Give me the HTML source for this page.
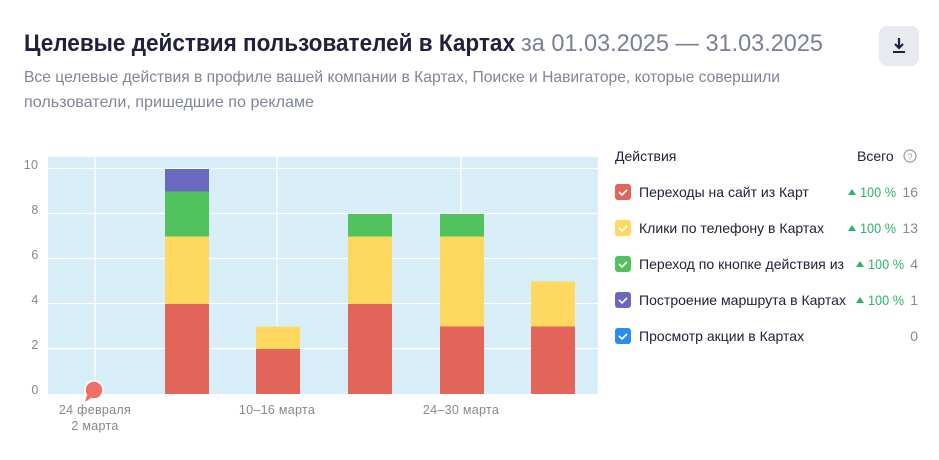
<!DOCTYPE html>
<html><head><meta charset="utf-8"><style>
html,body{margin:0;padding:0;background:#fff;width:939px;height:460px;overflow:hidden}
svg text{font-family:"Liberation Sans",sans-serif}
</style></head><body>
<svg width="939" height="460" viewBox="0 0 939 460" xmlns="http://www.w3.org/2000/svg">
<text x="24" y="51" font-size="24" font-weight="bold" fill="#21213b" textLength="491" lengthAdjust="spacingAndGlyphs">Целевые действия пользователей в Картах</text>
<text x="521" y="51" font-size="24" fill="#7a7f94" textLength="302" lengthAdjust="spacingAndGlyphs">за 01.03.2025 — 31.03.2025</text>
<rect x="879" y="26" width="40" height="40" rx="8" fill="#e8eaf0"/>
<path d="M899 38 v10 M895 44 l4 4 l4 -4" stroke="#21213b" stroke-width="2.2" fill="none"/>
<rect x="893" y="51" width="12" height="2" fill="#21213b"/>
<text x="24" y="82" font-size="16" fill="#808596" textLength="756" lengthAdjust="spacingAndGlyphs">Все целевые действия в профиле вашей компании в Картах, Поиске и Навигаторе, которые совершили</text>
<text x="24" y="107" font-size="16" fill="#808596" textLength="290" lengthAdjust="spacingAndGlyphs">пользователи, пришедшие по рекламе</text>
<rect x="48" y="157" width="550" height="237" fill="#d7eef9"/>
<g stroke="#fff" stroke-width="1.3">
<line x1="48" x2="598" y1="168.5" y2="168.5"/><line x1="48" x2="598" y1="213.5" y2="213.5"/>
<line x1="48" x2="598" y1="258.5" y2="258.5"/><line x1="48" x2="598" y1="303.5" y2="303.5"/>
<line x1="48" x2="598" y1="348.5" y2="348.5"/>
<line x1="95" x2="95" y1="157" y2="394"/><line x1="277" x2="277" y1="157" y2="394"/><line x1="461" x2="461" y1="157" y2="394"/>
</g>
<g font-size="12.5" fill="#888" letter-spacing="0.3">
<text x="31" y="169" text-anchor="middle">10</text><text x="35" y="214" text-anchor="middle">8</text>
<text x="35" y="259" text-anchor="middle">6</text><text x="35" y="304" text-anchor="middle">4</text>
<text x="35" y="349" text-anchor="middle">2</text><text x="35" y="394" text-anchor="middle">0</text>
<text x="95" y="414" text-anchor="middle">24 февраля</text><text x="95" y="430" text-anchor="middle">2 марта</text>
<text x="277" y="414" text-anchor="middle">10–16 марта</text><text x="461" y="414" text-anchor="middle">24–30 марта</text>
</g>
<rect x="165" y="304" width="44" height="90" fill="#e36458"/>
<rect x="165" y="236.5" width="44" height="67.5" fill="#ffd95f"/>
<rect x="165" y="191.5" width="44" height="45" fill="#52c25e"/>
<rect x="165" y="169" width="44" height="22.5" fill="#6b68bf"/>
<rect x="256" y="349" width="44" height="45" fill="#e36458"/>
<rect x="256" y="326.5" width="44" height="22.5" fill="#ffd95f"/>
<rect x="348" y="304" width="44" height="90" fill="#e36458"/>
<rect x="348" y="236.5" width="44" height="67.5" fill="#ffd95f"/>
<rect x="348" y="214" width="44" height="22.5" fill="#52c25e"/>
<rect x="440" y="326.5" width="44" height="67.5" fill="#e36458"/>
<rect x="440" y="236.5" width="44" height="90" fill="#ffd95f"/>
<rect x="440" y="214" width="44" height="22.5" fill="#52c25e"/>
<rect x="531" y="326.5" width="44" height="67.5" fill="#e36458"/>
<rect x="531" y="281.5" width="44" height="45" fill="#ffd95f"/>
<circle cx="94" cy="390" r="9" fill="#f06f67" stroke="#fff" stroke-width="1.5"/>
<path d="M87 395 l-2 7 l6 -4 z" fill="#f06f67"/>
<text x="615" y="161" font-size="14" fill="#21213b">Действия</text>
<text x="857" y="161" font-size="14" fill="#21213b">Всего</text>
<circle cx="910" cy="156" r="6" fill="none" stroke="#999" stroke-width="1.2"/>
<text x="910" y="160" font-size="9" fill="#999" text-anchor="middle">?</text>
<g font-size="14" fill="#21213b">
<rect x="615" y="184" width="16" height="16" rx="3" fill="#e36458"/><path d="M619 192 l3 3 l5 -5" stroke="#fff" stroke-width="1.6" fill="none"/>
<text x="639" y="197">Переходы на сайт из Карт</text>
<rect x="615" y="220" width="16" height="16" rx="3" fill="#ffd95f"/><path d="M619 228 l3 3 l5 -5" stroke="#fff" stroke-width="1.6" fill="none"/>
<text x="639" y="233" textLength="185" lengthAdjust="spacingAndGlyphs">Клики по телефону в Картах</text>
<rect x="615" y="256" width="16" height="16" rx="3" fill="#52c25e"/><path d="M619 264 l3 3 l5 -5" stroke="#fff" stroke-width="1.6" fill="none"/>
<text x="639" y="269" textLength="205" lengthAdjust="spacingAndGlyphs">Переход по кнопке действия из</text>
<rect x="615" y="292" width="16" height="16" rx="3" fill="#6b68bf"/><path d="M619 300 l3 3 l5 -5" stroke="#fff" stroke-width="1.6" fill="none"/>
<text x="639" y="305" textLength="207" lengthAdjust="spacingAndGlyphs">Построение маршрута в Картах</text>
<rect x="615" y="328" width="16" height="16" rx="3" fill="#2e8cf0"/><path d="M619 336 l3 3 l5 -5" stroke="#fff" stroke-width="1.6" fill="none"/>
<text x="639" y="341">Просмотр акции в Картах</text>
</g>
<g font-size="14" fill="#2bb36b">
<path d="M848 195 l4 -6 l4 6 z"/><text x="860" y="197" textLength="36" lengthAdjust="spacingAndGlyphs">100 %</text>
<path d="M848 231 l4 -6 l4 6 z"/><text x="860" y="233" textLength="36" lengthAdjust="spacingAndGlyphs">100 %</text>
<path d="M856 267 l4 -6 l4 6 z"/><text x="868" y="269" textLength="36" lengthAdjust="spacingAndGlyphs">100 %</text>
<path d="M856 303 l4 -6 l4 6 z"/><text x="868" y="305" textLength="36" lengthAdjust="spacingAndGlyphs">100 %</text>
</g>
<g font-size="14" fill="#888" text-anchor="end">
<text x="918" y="197">16</text><text x="918" y="233">13</text><text x="918" y="269">4</text>
<text x="918" y="305">1</text><text x="918" y="341">0</text>
</g>
</svg>
</body></html>
